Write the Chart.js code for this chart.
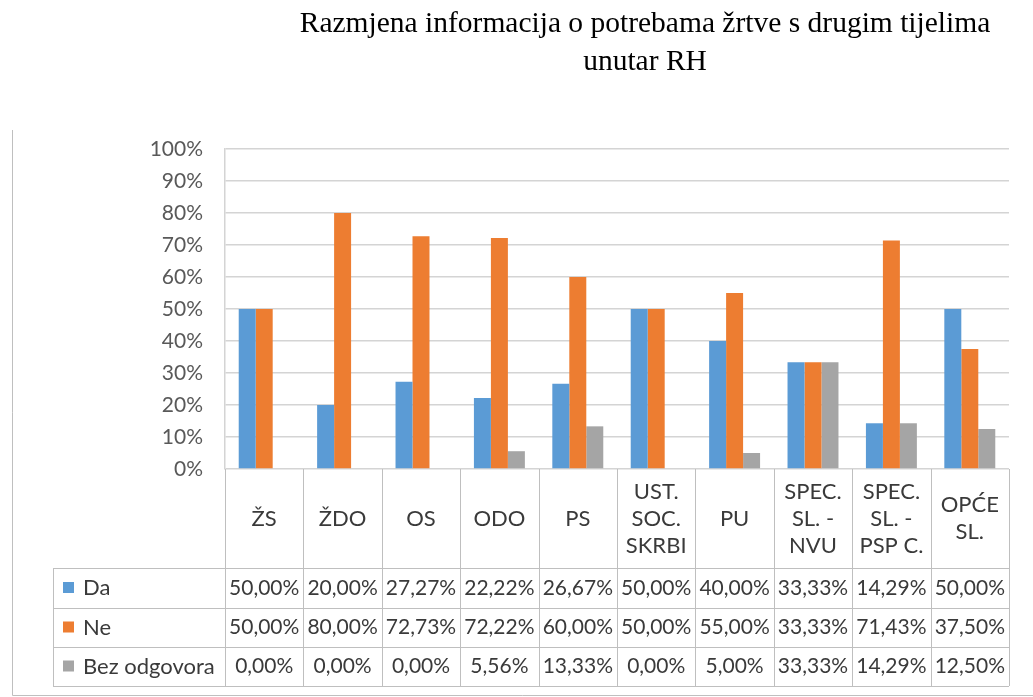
<!DOCTYPE html>
<html>
<head>
<meta charset="utf-8">
<script src="https://cdn.jsdelivr.net/npm/chart.js@4.4.0/dist/chart.umd.min.js"></script>
<style>
  html, body { margin: 0; padding: 0; background: #fff; }
  #wrap { position: relative; width: 1033px; height: 697px; }
  #title {
    position: absolute; left: 245px; top: 3px; width: 800px;
    text-align: center; color: #000;
    font-family: "Liberation Serif", "Times New Roman", serif;
    font-size: 29.5px; line-height: 38px;
  }
  canvas { position: absolute; left: 0; top: 0; }
</style>
</head>
<body>
<div id="wrap">
  <canvas id="chart" width="1033" height="697"></canvas>
  <div id="title">Razmjena informacija o potrebama žrtve s drugim tijelima<br>unutar RH</div>
</div>
<script>
// categories (multi-line labels as in the table header)
const categories = [
    ['ŽS'], ['ŽDO'], ['OS'], ['ODO'], ['PS'],
    ['UST.', 'SOC.', 'SKRBI'], ['PU'],
    ['SPEC.', 'SL. -', 'NVU'], ['SPEC.', 'SL. -', 'PSP C.'], ['OPĆE', 'SL.']
];
const seriesNames = ['Da', 'Ne', 'Bez odgovora'];
const daValues = [50.00, 20.00, 27.27, 22.22, 26.67, 50.00, 40.00, 33.33, 14.29, 50.00];
const neValues = [50.00, 80.00, 72.73, 72.22, 60.00, 50.00, 55.00, 33.33, 71.43, 37.50];
const bezValues = [0.00, 0.00, 0.00, 5.56, 13.33, 0.00, 5.00, 33.33, 14.29, 12.50];
const colors = ['#5B9BD5', '#ED7D31', '#A5A5A5'];

const textColor = '#3A3A3A';
const lineColor = '#BFBFBF';
const valueFont = '21px Lato';
const labelFont = '22px Lato';

function fmt(v) {
    return v.toFixed(2).replace('.', ',') + '%';
}

// draws the frame and the data table under the bars
const dataTable = {
    id: 'dataTable',
    afterDraw(chart) {
        const ctx = chart.ctx;
        const x = chart.scales.x;
        const area = chart.chartArea;
        const n = categories.length;
        const colW = (area.right - area.left) / n;
        const rows = [area.bottom, 568, 608, 647, 686];
        const legendLeft = 53;
        const series = [daValues, neValues, bezValues];

        ctx.save();
        ctx.strokeStyle = lineColor;
        ctx.lineWidth = 1;

        // outer frame (left + bottom visible)
        ctx.beginPath();
        ctx.moveTo(12.5, 130);
        ctx.lineTo(12.5, 695.5);
        ctx.lineTo(1033, 695.5);
        ctx.stroke();

        // horizontal lines
        ctx.beginPath();
        for (let r = 1; r < rows.length; r++) {
            ctx.moveTo(legendLeft, rows[r] + 0.5);
            ctx.lineTo(area.right, rows[r] + 0.5);
        }
        ctx.stroke();

        // vertical lines
        ctx.beginPath();
        for (let k = 0; k <= n; k++) {
            const cx = Math.round(k < n ? x.getPixelForValue(k) - colW / 2 : x.getPixelForValue(n - 1) + colW / 2) + 0.5;
            ctx.moveTo(cx, rows[0]);
            ctx.lineTo(cx, rows[4]);
        }
        ctx.moveTo(legendLeft + 0.5, rows[1]);
        ctx.lineTo(legendLeft + 0.5, rows[4]);
        ctx.stroke();

        ctx.fillStyle = textColor;
        ctx.textBaseline = 'middle';

        // category header
        ctx.font = labelFont;
        ctx.textAlign = 'center';
        const headMid = (rows[0] + rows[1]) / 2;
        categories.forEach((lines, i) => {
            const cx = x.getPixelForValue(i);
            const lh = 27;
            const y0 = headMid - (lines.length - 1) * lh / 2;
            lines.forEach((t, j) => ctx.fillText(t, cx, y0 + j * lh));
        });

        // rows with legend keys and values
        series.forEach((vals, s) => {
            const mid = (rows[s + 1] + rows[s + 2]) / 2;
            ctx.fillStyle = colors[s];
            ctx.fillRect(63, mid - 6, 11, 11);
            ctx.fillStyle = textColor;
            ctx.font = labelFont;
            ctx.textAlign = 'left';
            ctx.fillText(seriesNames[s], 83, mid);
            ctx.font = valueFont;
            ctx.textAlign = 'center';
            vals.forEach((v, i) => ctx.fillText(fmt(v), x.getPixelForValue(i), mid));
        });
        ctx.restore();
    }
};

const ctx = document.getElementById('chart').getContext('2d');
new Chart(ctx, {
    type: 'bar',
    data: {
        labels: categories,
        datasets: [daValues, neValues, bezValues].map((vals, s) => ({
            label: seriesNames[s],
            data: vals,
            backgroundColor: colors[s],
            barPercentage: 1,
            categoryPercentage: 0.65
        }))
    },
    options: {
        responsive: false,
        animation: false,
        layout: { padding: { left: 0, top: 149, right: 24, bottom: 228 } },
        plugins: {
            legend: { display: false },
            title: { display: false },
            tooltip: { enabled: false }
        },
        scales: {
            x: { display: false },
            y: {
                min: 0,
                max: 100,
                ticks: {
                    stepSize: 10,
                    color: '#595959',
                    font: { family: 'Lato', size: 21 },
                    padding: 22,
                    callback: v => v + '%'
                },
                grid: { color: '#D4D4D4', lineWidth: 1.5, drawTicks: false },
                border: { display: true, color: '#D4D4D4', width: 1.5 },
                afterFit(scale) { scale.width = 225; }
            }
        }
    },
    plugins: [dataTable]
});
</script>
</body>
</html>
